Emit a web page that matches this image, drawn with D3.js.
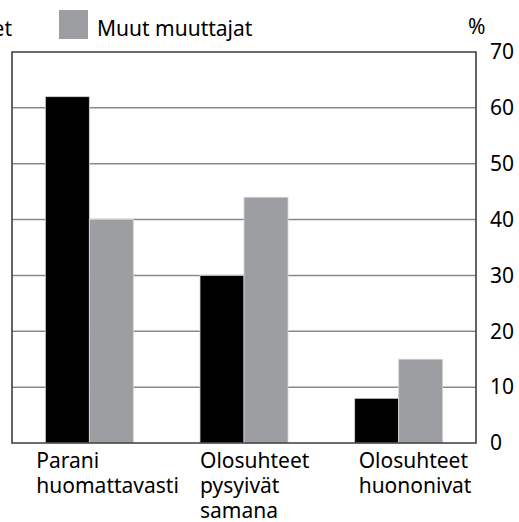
<!DOCTYPE html>
<html>
<head>
<meta charset="utf-8">
<script src="https://cdn.jsdelivr.net/npm/d3@7"></script>
<style>
  body { margin: 0; background: #fff; }
  text { font-family: "Noto Sans", sans-serif; fill: #000; }
</style>
</head>
<body>
<script>
//chart data
var categories = [
    ["Parani", "huomattavasti"],
    ["Olosuhteet", "pysyivät", "samana"],
    ["Olosuhteet", "huononivat"]
];
var seriesNames = ["Kaupunkiin muuttaneet", "Muut muuttajat"];
var firstMovers = [62, 30, 8];
var otherMovers = [40, 44, 15];
var yTicks = [0, 10, 20, 30, 40, 50, 60, 70];

var w = 519, h = 522;
//plot area edges
var plotLeft = 12, plotRight = 476, plotTop = 52, plotBottom = 443;
var colors = ["#000000", "#9c9ea1"];
var fontSize = "21px";

var svg = d3.select("body")
    .append("svg")
    .attr("width", w)
    .attr("height", h);

//scales
var x0 = d3.scaleBand()
    .domain(d3.range(categories.length))
    .range([plotLeft, plotRight])
    .paddingInner(0.431)
    .paddingOuter(0.2155);

var x1 = d3.scaleBand()
    .domain([0, 1])
    .range([0, x0.bandwidth()]);

var y = d3.scaleLinear()
    .domain([0, 70])
    .range([plotBottom, plotTop]);

//gridlines
svg.append("g")
    .selectAll("line")
    .data(yTicks.slice(1, -1))
    .enter()
    .append("line")
    .attr("x1", plotLeft)
    .attr("x2", plotRight)
    .attr("y1", function(d){ return y(d); })
    .attr("y2", function(d){ return y(d); })
    .style("stroke", "#8a8a8a")
    .style("stroke-width", 1.5);

//bars
var groups = svg.selectAll(".group")
    .data(categories)
    .enter()
    .append("g")
    .attr("class", "group")
    .attr("transform", function(d, i){ return "translate(" + x0(i) + ",0)"; });

groups.selectAll("rect")
    .data(function(d, i){ return [firstMovers[i], otherMovers[i]]; })
    .enter()
    .append("rect")
    .attr("x", function(d, j){ return x1(j); })
    .attr("y", function(d){ return y(d); })
    .attr("width", x1.bandwidth())
    .attr("height", function(d){ return y(0) - y(d); })
    .style("fill", function(d, j){ return colors[j]; })
    .style("stroke", "#d6d6d6")
    .style("stroke-width", 0.8);

//frame (left, top, right, bottom)
svg.append("path")
    .attr("d", "M" + plotLeft + "," + plotBottom + "V" + plotTop + "H" + plotRight + "V" + plotBottom + "Z")
    .style("fill", "none")
    .style("stroke", "#3c3c3c")
    .style("stroke-width", 1.6);

//right axis
var yAxis = d3.axisRight(y)
    .tickValues(yTicks)
    .tickSize(0)
    .tickPadding(14);

var axis = svg.append("g")
    .attr("transform", "translate(" + plotRight + ",0)")
    .call(yAxis);
axis.select(".domain").remove();
axis.selectAll("text")
    .style("font-size", fontSize)
    .style("font-family", "'Noto Sans', sans-serif");

svg.append("text")
    .attr("x", 468)
    .attr("y", 34)
    .style("font-size", fontSize)
    .text("%");

//category labels
var labelShift = [-9, 0, 4];
var labels = svg.selectAll(".labels")
    .data(categories)
    .enter()
    .append("text")
    .attr("class", "labels")
    .attr("y", 468)
    .style("font-size", fontSize);

labels.selectAll("tspan")
    .data(function(d, i){ return d.map(function(t){ return {t: t, i: i}; }); })
    .enter()
    .append("tspan")
    .attr("x", function(d){ return x0(d.i) + labelShift[d.i]; })
    .attr("dy", function(d, k){ return k === 0 ? 0 : 25; })
    .text(function(d){ return d.t; });

//legend (first item runs off the left edge)
svg.append("rect")
    .attr("x", -220)
    .attr("y", 10)
    .attr("width", 29)
    .attr("height", 29)
    .style("fill", colors[0]);
svg.append("text")
    .attr("x", 12)
    .attr("y", 36)
    .attr("text-anchor", "end")
    .style("font-size", fontSize)
    .text(seriesNames[0]);

svg.append("rect")
    .attr("x", 59)
    .attr("y", 10)
    .attr("width", 29)
    .attr("height", 29)
    .style("fill", colors[1]);
svg.append("text")
    .attr("x", 97)
    .attr("y", 36)
    .style("font-size", fontSize)
    .text(seriesNames[1]);
</script>
</body>
</html>
